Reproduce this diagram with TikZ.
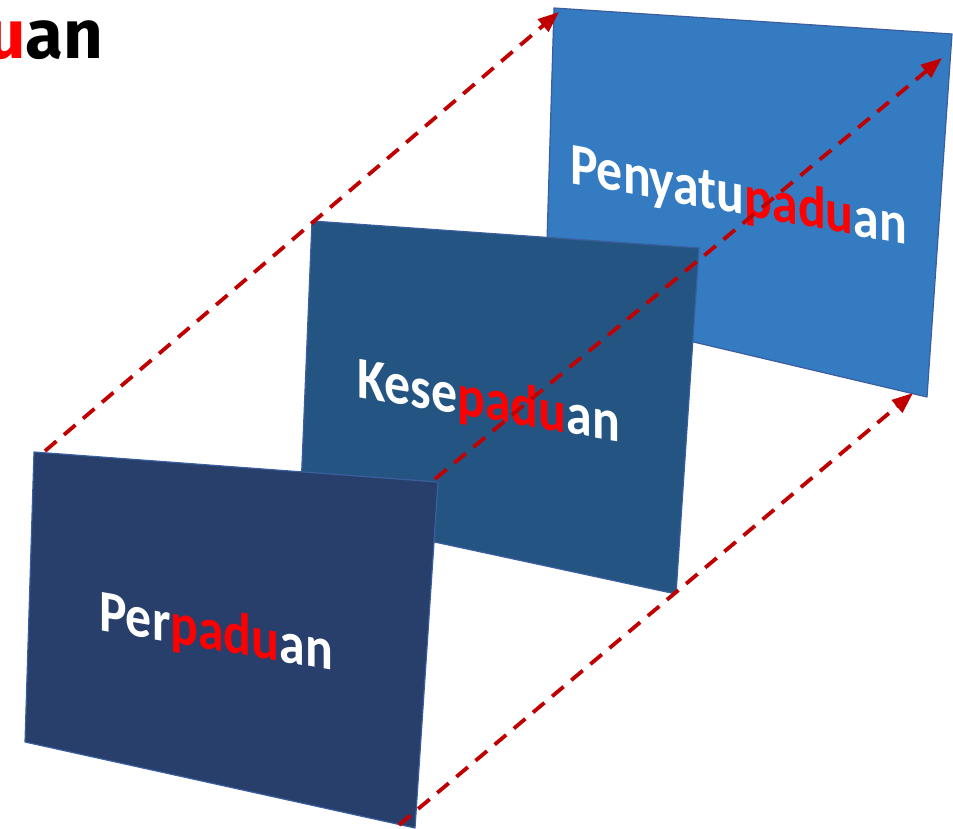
\documentclass[tikz,border=0pt]{standalone}
\usepackage{fontspec}
\setmainfont{Carlito}
\newfontfamily\titlefont{Fira Sans}
\usetikzlibrary{arrows.meta}
\definecolor{pone}{HTML}{283F6B}
\definecolor{ptwo}{HTML}{245582}
\definecolor{pthree}{HTML}{347BC1}
\definecolor{edgeblue}{HTML}{3B5E9E}
\definecolor{arrowred}{HTML}{C00000}
\begin{document}
\begin{tikzpicture}[x=1pt,y=-1pt,
  panel/.style={draw=edgeblue, line width=1.2pt, line join=round},
  lbl/.style={font=\fontsize{54}{60}\selectfont\bfseries, text=white, inner sep=0pt, anchor=base west, xscale=0.96, yscale=1.1, transform shape},
  link/.style={draw=arrowred, line width=3.8pt, dash pattern=on 15pt off 10pt, -{Triangle[length=21pt,width=16pt]}}]
\useasboundingbox (0,0) rectangle (953,829);
\clip (0,0) rectangle (953,829);
% title fragment
\node[font=\titlefont\bfseries\fontsize{69}{74}\selectfont, anchor=base west, inner sep=0pt] (title) at (-14,59) {{\color{red}u}an};
% corners
\coordinate (c3a) at (554,8);   \coordinate (c3b) at (952,34);
\coordinate (c3c) at (927,397); \coordinate (c3d) at (545,307);
\coordinate (c2a) at (312,221); \coordinate (c2b) at (699,248);
\coordinate (c2c) at (676,594); \coordinate (c2d) at (300,513);
\coordinate (c1a) at (34,452);  \coordinate (c1b) at (438,482);
\coordinate (c1c) at (415,828); \coordinate (c1d) at (25,742);
% panels
\fill[pthree] (c3a) -- (c3b) -- (c3c) -- (c3d) -- cycle;
\draw[panel] (c3a) -- (c3b) -- (c3c) -- (c3d) -- cycle;
\begin{scope}[shift={(570,183)}]
  \node[lbl, yslant=-0.16] (t3) at (0,0) {Penyatu{\color{red}padu}an};
\end{scope}
\fill[ptwo] (c2a) -- (c2b) -- (c2c) -- (c2d) -- cycle;
\draw[panel] (c2a) -- (c2b) -- (c2c) -- (c2d) -- cycle;
\begin{scope}[shift={(357,397)}]
  \node[lbl, yslant=-0.149] (t2) at (0,0) {Kese{\color{red}padu}an};
\end{scope}
\fill[pone] (c1a) -- (c1b) -- (c1c) -- (c1d) -- cycle;
\draw[panel] (c1a) -- (c1b) -- (c1c) -- (c1d) -- cycle;
\begin{scope}[shift={(99,630)}]
  \node[lbl, yslant=-0.152] (t1) at (0,0) {Per{\color{red}padu}an};
\end{scope}
% dashed links
\coordinate (a1s) at (45,451);  \coordinate (a1e) at (559,12);
\coordinate (a2s) at (435,479); \coordinate (a2e) at (942,58);
\coordinate (a3s) at (399,825); \coordinate (a3e) at (913,393);
\draw[link] (a1s) -- (a1e);
\draw[link] (a2s) -- (a2e);
\draw[link] (a3s) -- (a3e);
\end{tikzpicture}
\end{document}
